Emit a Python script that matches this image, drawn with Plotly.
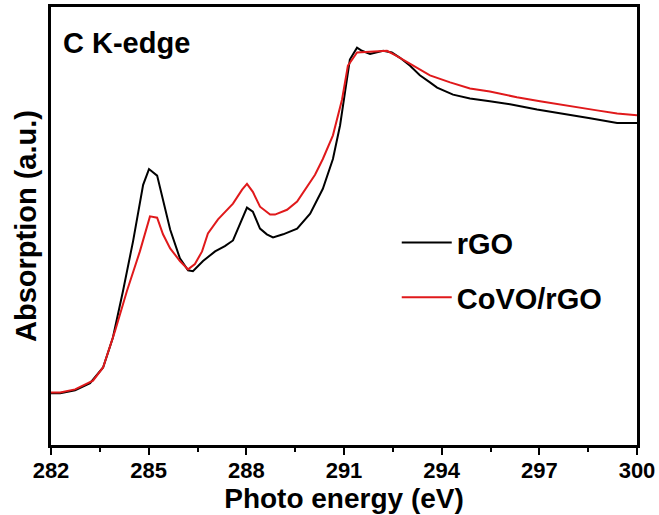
import plotly.graph_objects as go

# C K-edge XANES spectra
energy_rgo = [282.00, 282.28, 282.74, 283.20, 283.60, 283.90, 284.21, 284.52, 284.83, 285.01,
              285.26, 285.44, 285.66, 285.96, 286.21, 286.36, 286.67, 287.04, 287.34, 287.59,
              287.81, 288.02, 288.20, 288.42, 288.63, 288.82, 289.13, 289.56, 289.96, 290.35,
              290.66, 290.88, 291.03, 291.18, 291.40, 291.55, 291.80, 292.20, 292.47, 292.72,
              293.03, 293.33, 293.64, 293.86, 294.35, 294.87, 295.48, 296.10, 296.93, 297.73,
              298.56, 299.39, 300.00]
absorb_rgo = [0.118, 0.118, 0.125, 0.141, 0.177, 0.245, 0.351, 0.465, 0.594, 0.630,
              0.615, 0.560, 0.492, 0.426, 0.399, 0.397, 0.420, 0.442, 0.454, 0.467,
              0.506, 0.542, 0.533, 0.494, 0.481, 0.474, 0.481, 0.494, 0.528, 0.585,
              0.653, 0.730, 0.805, 0.880, 0.907, 0.900, 0.893, 0.900, 0.896, 0.884,
              0.866, 0.844, 0.828, 0.816, 0.800, 0.791, 0.785, 0.778, 0.766, 0.757,
              0.746, 0.735, 0.735]

energy_covo = [282.00, 282.28, 282.74, 283.29, 283.60, 283.97, 284.33, 284.73, 285.04, 285.26,
               285.44, 285.66, 285.96, 286.21, 286.42, 286.64, 286.82, 287.13, 287.59, 287.87,
               288.02, 288.20, 288.42, 288.73, 288.88, 289.25, 289.56, 289.86, 290.11, 290.35,
               290.66, 290.94, 291.12, 291.40, 291.80, 292.32, 292.60, 293.12, 293.64, 294.26,
               294.87, 295.48, 296.31, 297.02, 297.73, 298.77, 299.39, 300.00]
absorb_covo = [0.120, 0.120, 0.127, 0.147, 0.177, 0.261, 0.351, 0.442, 0.522, 0.519,
               0.481, 0.449, 0.420, 0.401, 0.413, 0.442, 0.483, 0.515, 0.551, 0.583,
               0.596, 0.578, 0.544, 0.526, 0.526, 0.537, 0.556, 0.590, 0.617, 0.653,
               0.707, 0.789, 0.866, 0.896, 0.898, 0.900, 0.889, 0.866, 0.844, 0.828,
               0.814, 0.807, 0.794, 0.785, 0.776, 0.764, 0.757, 0.753]

tick_vals = [282, 285, 288, 291, 294, 297, 300]

FONT = "Liberation Sans, Arial, sans-serif"

fig = go.Figure()
fig.add_trace(go.Scatter(x=energy_rgo, y=absorb_rgo, mode="lines", name="<b>rGO</b>",
                         legendgroup="a", line=dict(color="black", width=2)))
fig.add_trace(go.Scatter(x=energy_covo, y=absorb_covo, mode="lines", name="<b>CoVO/rGO</b>",
                         legendgroup="b", line=dict(color="#e0191b", width=2)))

fig.update_layout(
    width=659, height=515,
    margin=dict(l=51, r=22, t=4, b=70),
    paper_bgcolor="white", plot_bgcolor="white",
    font=dict(family=FONT, color="black"),
    showlegend=True,
    legend=dict(x=0.59, y=0.52, xanchor="left", yanchor="top",
                font=dict(size=29, family=FONT, color="black"),
                bgcolor="rgba(0,0,0,0)", tracegroupgap=14, traceorder="grouped",
                itemwidth=50),
    annotations=[dict(text="<b>C K-edge</b>", x=0.017, y=0.918, xref="paper", yref="paper",
                      xanchor="left", yanchor="middle", showarrow=False,
                      font=dict(size=29, family=FONT, color="black"))],
)

fig.update_xaxes(
    range=[282, 300], tickvals=tick_vals, ticktext=[f"<b>{v}</b>" for v in tick_vals],
    tickfont=dict(size=22, family=FONT, color="black"),
    ticks="outside", ticklen=7, tickwidth=2, tickcolor="black", ticklabelstandoff=-3,
    minor=dict(dtick=1.5, tick0=282, ticks="outside", ticklen=4, tickwidth=2, tickcolor="black"),
    showline=True, linewidth=2.5, linecolor="black", mirror=True, showgrid=False, zeroline=False,
    title=dict(text="<b>Photo energy (eV)</b>", font=dict(size=28, family=FONT, color="black"),
               standoff=0),
)
fig.update_yaxes(
    range=[0, 1], showticklabels=False, ticks="",
    showline=True, linewidth=2.5, linecolor="black", mirror=True, showgrid=False, zeroline=False,
    title=dict(text="<b>Absorption (a.u.)</b>", font=dict(size=29, family=FONT, color="black"),
               standoff=4),
)

fig.write_html("out.html")
